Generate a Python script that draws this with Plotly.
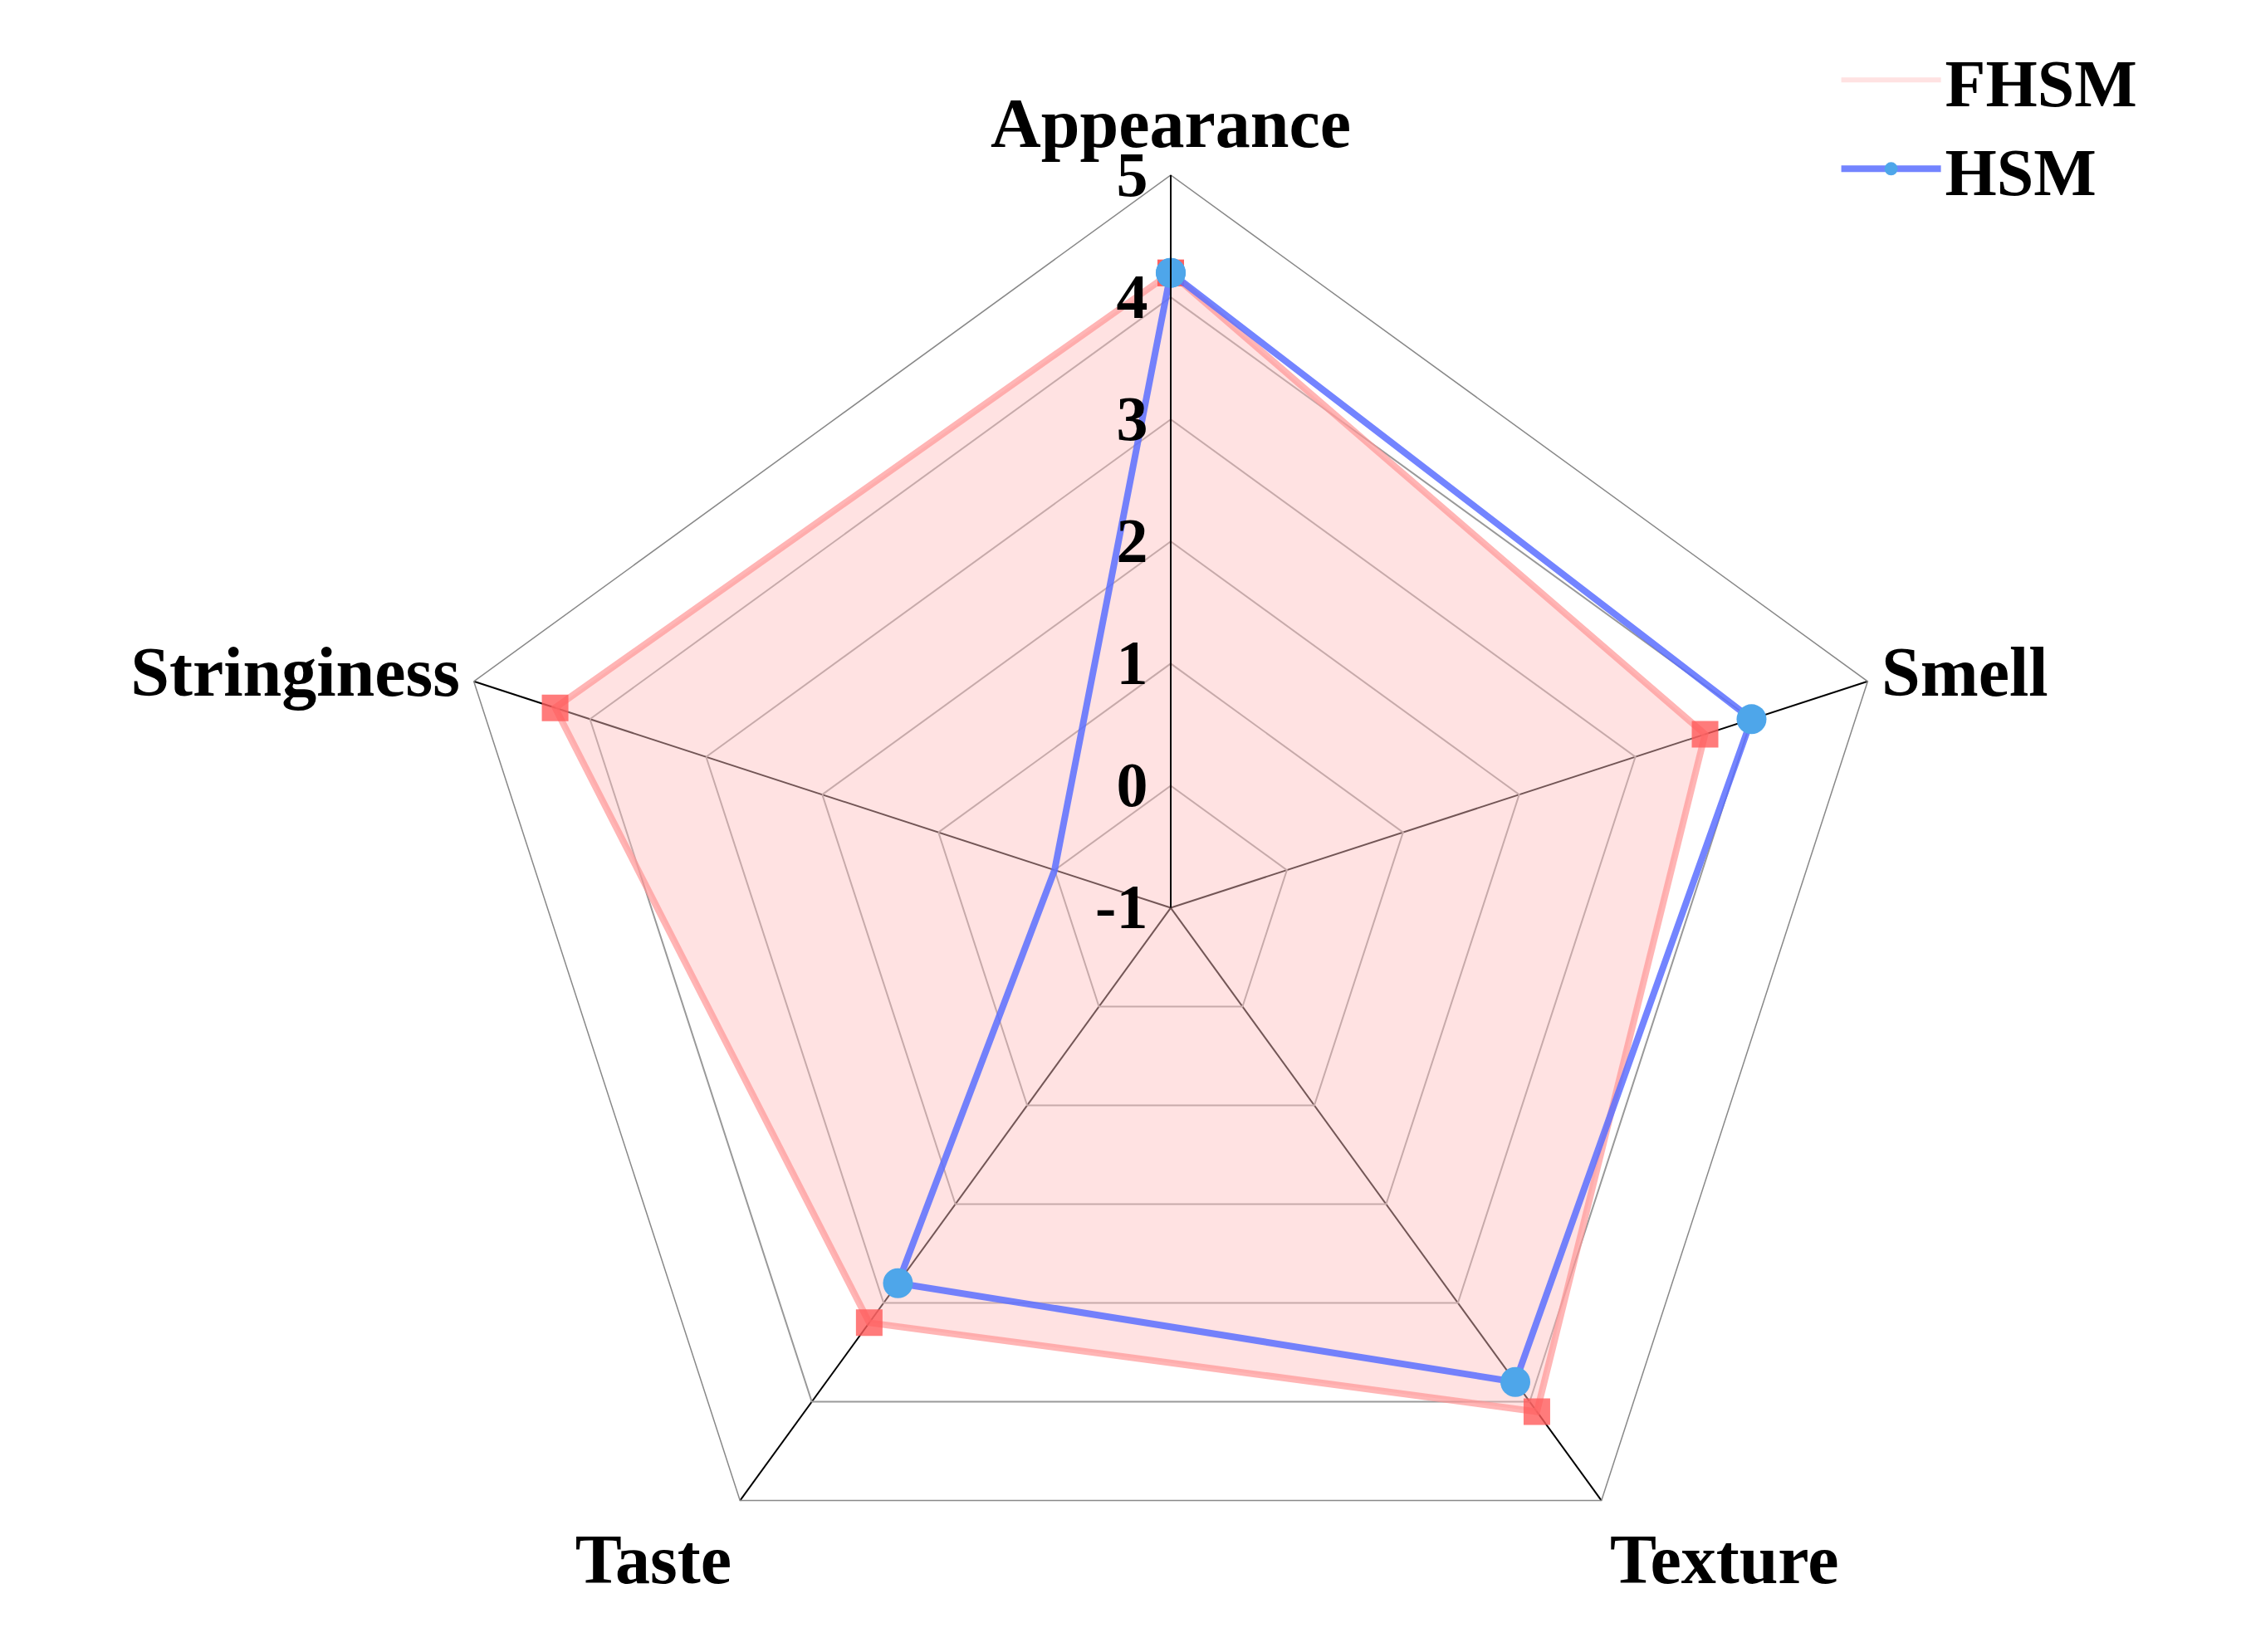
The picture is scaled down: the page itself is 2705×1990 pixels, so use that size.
import plotly.graph_objects as go

categories = ["Appearance", "Smell", "Texture", "Taste", "Stringiness"]
fhsm = [4.2, 3.6, 4.1, 3.2, 4.3]
hsm = [4.2, 4.0, 3.8, 2.8, 0.0]
ticks = [-1, 0, 1, 2, 3, 4, 5]

cats = categories + categories[:1]
fig = go.Figure()
fig.add_trace(go.Scatterpolar(
    r=fhsm + fhsm[:1], theta=cats, name="FHSM", fill="toself",
    fillcolor="rgba(255,190,190,0.45)", showlegend=False,
    line=dict(color="rgba(255,150,150,0.7)", width=8),
    marker=dict(symbol="square", size=32, color="rgba(255,90,90,0.8)"),
    mode="lines+markers"))
fig.add_trace(go.Scatterpolar(
    r=[None], theta=[categories[0]], name="FHSM", fill="toself",
    fillcolor="rgba(255,190,190,0.45)", mode="none"))
fig.add_trace(go.Scatterpolar(
    r=hsm + hsm[:1], theta=cats, name="HSM",
    line=dict(color="rgba(90,110,255,0.85)", width=8),
    marker=dict(symbol="circle", size=36, color="#4ea6ea"),
    mode="lines+markers"))

fig.update_layout(
    width=2705, height=1990, paper_bgcolor="white",
    margin=dict(l=0, r=0, t=0, b=0),
    font=dict(family="Liberation Serif", color="black"),
    polar=dict(
        domain=dict(x=[519/2705, 2285/2705], y=[0.011, 0.898]),
        gridshape="linear", bgcolor="white",
        radialaxis=dict(range=[-1, 5], tickvals=ticks, ticktext=[str(t) for t in ticks],
                        angle=90, tickangle=90, side="counterclockwise",
                        showline=True, linecolor="black", linewidth=2,
                        gridcolor="#999", gridwidth=1.5, ticks="",
                        tickfont=dict(size=76, family="Liberation Serif", color="black", weight="bold")),
        angularaxis=dict(direction="clockwise", rotation=90, showline=True,
                         linecolor="#888", linewidth=1.5,
                         gridcolor="black", gridwidth=2, ticks="",
                         tickfont=dict(size=84, family="Liberation Serif", color="black", weight="bold")),
    ),
    legend=dict(x=0.815, y=0.985, xanchor="left", yanchor="top",
                font=dict(size=80, family="Liberation Serif", weight="bold"),
                itemwidth=120),
)
fig.write_html("out.html")
